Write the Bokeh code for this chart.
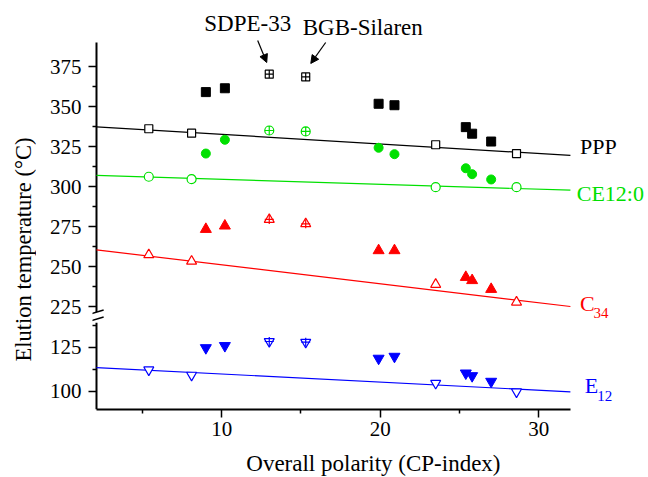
from bokeh.plotting import figure
from bokeh.layouts import column, row
from bokeh.models import Range1d, FixedTicker, Label, Arrow, NormalHead
from bokeh.embed import file_html
from bokeh.resources import INLINE

FONT = "Liberation Serif"
BLACK, GREEN, RED, BLUE = "#000000", "#00e000", "#ff0000", "#0000ff"

# ---- data ----
x_open = [5.4, 8.1, 23.5, 28.6]
x_filled = [9.0, 10.2, 19.9, 20.9, 25.4, 25.8, 27.0]
x_crossed = [13.0, 15.3]

ppp_open = [336.1, 333.3, 326.1, 320.6]
ppp_filled = [359.0, 361.4, 351.7, 350.8, 337.1, 333.0, 328.1]
ppp_crossed = [370.2, 368.5]

ce_open = [306.1, 304.6, 299.6, 299.6]
ce_filled = [320.6, 329.2, 324.2, 320.2, 311.4, 307.7, 304.4]
ce_crossed = [335.0, 334.4]

c34_open = [257.3, 253.3, 238.8, 227.7]
c34_filled = [273.3, 275.4, 260.0, 260.0, 243.3, 241.3, 235.8]
c34_crossed = [279.4, 276.7]

e12_open = [112.3, 109.3, 104.7, 99.8]
e12_filled = [124.8, 126.0, 118.8, 119.9, 110.4, 108.9, 105.7]
e12_crossed = [128.4, 128.0]

fit_x = [2.1, 32.0]
ppp_fit = [337.3, 319.4]
ce_fit = [306.9, 297.7]
c34_fit = [260.4, 225.0]
e12_fit = [113.6, 99.8]

upper_ticks = [225, 250, 275, 300, 325, 350, 375]
upper_minor = [237.5, 262.5, 287.5, 312.5, 337.5, 362.5]
lower_ticks = [100, 125]
lower_minor = [112.5, 137.5]
x_ticks = [10, 20, 30]
x_minor = [5, 15, 25]

X0, X1 = 2.1, 32.0                 # extent of the x axis
UP_LO, UP_HI = 221.5, 390.0        # extent of the upper y axis
LO_LO, LO_HI = 89.77, 139.2        # extent of the lower y axis
xr = Range1d(1.848, 36.927)


def style_axis(ax):
    ax.axis_line_width = 2
    ax.axis_line_color = BLACK
    ax.major_tick_line_width = 1.5
    ax.minor_tick_line_width = 1.5
    ax.major_tick_in = 0
    ax.major_tick_out = 8
    ax.minor_tick_in = 0
    ax.minor_tick_out = 4
    ax.major_label_text_font = FONT
    ax.major_label_text_font_size = "21px"
    ax.major_label_text_color = BLACK


def style_yaxis(ax):
    # axis sits 4px left of the drawn spine: ticks straddle so they end at the spine
    style_axis(ax)
    ax.axis_line_color = None
    ax.major_tick_out = 4
    ax.major_tick_in = 4
    ax.minor_tick_out = 0
    ax.minor_tick_in = 4
    ax.major_label_standoff = 7


def base(p):
    p.outline_line_color = None
    p.grid.visible = False
    p.background_fill_color = "white"
    p.border_fill_color = "white"


# ---- left strip holding the y-axis title ----
yfig = figure(width=36, height=477, x_range=Range1d(0, 36), y_range=Range1d(0, 477),
              output_backend="svg", toolbar_location=None, x_axis_location=None, y_axis_location=None,
              min_border=0)
base(yfig)
yfig.add_layout(Label(x=23, y=228, text="Elution temperature (°C)", angle=1.5707963,
                      text_font=FONT, text_font_size="22.5px", text_color=BLACK,
                      text_align="center", text_baseline="middle"))

# ---- upper panel ----
p1 = figure(width=612, height=322, x_range=xr, y_range=Range1d(215, 416.25),
            output_backend="svg", toolbar_location=None, x_axis_location=None,
            min_border_left=56, min_border_right=0, min_border_top=0, min_border_bottom=0)
base(p1)
ya = p1.yaxis[0]
style_yaxis(ya)
ya.bounds = (UP_LO, UP_HI)
ya.ticker = FixedTicker(ticks=upper_ticks, minor_ticks=upper_minor)
p1.segment(x0=[X0], y0=[UP_LO], x1=[X0], y1=[UP_HI], line_color=BLACK, line_width=2)

for fit, col in [(ppp_fit, BLACK), (ce_fit, GREEN), (c34_fit, RED)]:
    p1.line(fit_x, fit, line_color=col, line_width=1.2)

# PPP
p1.scatter(x_open, ppp_open, marker="square", size=8, fill_color="white", line_color=BLACK, line_width=1.2)
p1.scatter(x_filled, ppp_filled, marker="square", size=9, fill_color=BLACK, line_color=BLACK)
p1.scatter(x_crossed, ppp_crossed, marker="square_cross", size=8, fill_color="white", line_color=BLACK, line_width=1.2)
# CE12:0
p1.scatter(x_open, ce_open, marker="circle", size=9, fill_color="white", line_color=GREEN, line_width=1.2)
p1.scatter(x_filled, ce_filled, marker="circle", size=9, fill_color=GREEN, line_color=GREEN)
p1.scatter(x_crossed, ce_crossed, marker="circle_cross", size=9, fill_color="white", line_color=GREEN, line_width=1.2)
# C34
p1.scatter(x_open, c34_open, marker="triangle", size=10, fill_color="white", line_color=RED, line_width=1.2)
p1.scatter(x_filled, c34_filled, marker="triangle", size=11, fill_color=RED, line_color=RED)
p1.scatter(x_crossed, c34_crossed, marker="triangle", size=10, fill_color="white", line_color=RED, line_width=1.2)
p1.scatter(x_crossed, c34_crossed, marker="cross", size=9, line_color=RED, line_width=1.2)

# series labels
p1.add_layout(Label(x=32.6, y=325.0, text="PPP", text_font=FONT, text_font_size="22px",
                    text_color=BLACK, text_align="left", text_baseline="middle"))
p1.add_layout(Label(x=32.4, y=295.8, text="CE12:0", text_font=FONT, text_font_size="22px",
                    text_color=GREEN, text_align="left", text_baseline="middle"))
p1.add_layout(Label(x=32.6, y=226.7, text="C", text_font=FONT, text_font_size="22px",
                    text_color=RED, text_align="left", text_baseline="middle"))
p1.add_layout(Label(x=33.45, y=220.8, text="34", text_font=FONT, text_font_size="15px",
                    text_color=RED, text_align="left", text_baseline="middle"))

# annotations
p1.add_layout(Label(x=11.64, y=401.9, text="SDPE-33", text_font=FONT, text_font_size="23px",
                    text_color=BLACK, text_align="center", text_baseline="middle"))
p1.add_layout(Label(x=18.9, y=399.4, text="BGB-Silaren", text_font=FONT, text_font_size="23px",
                    text_color=BLACK, text_align="center", text_baseline="middle"))
p1.add_layout(Arrow(x_start=12.27, y_start=391.2, x_end=12.84, y_end=377.5, line_width=1.2,
                    end=NormalHead(size=8, fill_color=BLACK, line_color=BLACK)))
p1.add_layout(Arrow(x_start=16.56, y_start=390.0, x_end=15.62, y_end=376.9, line_width=1.2,
                    end=NormalHead(size=8, fill_color=BLACK, line_color=BLACK)))

# axis break marks
p1.add_layout(Arrow(x_start=1.6, y_start=220.0, x_end=2.55, y_end=222.8, line_width=1.5, end=None))
p1.add_layout(Arrow(x_start=1.6, y_start=215.6, x_end=2.55, y_end=218.4, line_width=1.5, end=None))

# ---- lower panel ----
p2 = figure(width=612, height=127, x_range=xr, y_range=Range1d(LO_LO, LO_HI),
            output_backend="svg", toolbar_location=None,
            min_border_left=56, min_border_right=0, min_border_top=0, min_border_bottom=40)
base(p2)
ya2 = p2.yaxis[0]
style_yaxis(ya2)
ya2.ticker = FixedTicker(ticks=lower_ticks, minor_ticks=lower_minor)
p2.segment(x0=[X0], y0=[LO_LO], x1=[X0], y1=[LO_HI], line_color=BLACK, line_width=2)
xa = p2.xaxis[0]
style_axis(xa)
xa.bounds = (X0, X1)
xa.ticker = FixedTicker(ticks=x_ticks, minor_ticks=x_minor)
xa.major_label_standoff = 4

p2.line(fit_x, e12_fit, line_color=BLUE, line_width=1.2)
p2.scatter(x_open, e12_open, marker="inverted_triangle", size=10, fill_color="white", line_color=BLUE, line_width=1.2)
p2.scatter(x_filled, e12_filled, marker="inverted_triangle", size=11, fill_color=BLUE, line_color=BLUE)
p2.scatter(x_crossed, e12_crossed, marker="inverted_triangle", size=10, fill_color="white", line_color=BLUE, line_width=1.2)
p2.scatter(x_crossed, e12_crossed, marker="cross", size=9, line_color=BLUE, line_width=1.2)

p2.add_layout(Label(x=32.9, y=103.4, text="E", text_font=FONT, text_font_size="22px",
                    text_color=BLUE, text_align="left", text_baseline="middle"))
p2.add_layout(Label(x=33.7, y=97.7, text="12", text_font=FONT, text_font_size="15px",
                    text_color=BLUE, text_align="left", text_baseline="middle"))

# ---- bottom strip holding the x-axis title (frame aligned with the panels above) ----
xfig = figure(width=612, height=28, x_range=xr, y_range=Range1d(0, 28),
              output_backend="svg", toolbar_location=None, x_axis_location=None, y_axis_location=None,
              min_border=0)
base(xfig)
xfig.add_layout(Label(x=19.57, y=14, text="Overall polarity (CP-index)", text_font=FONT,
                      text_font_size="23px", text_color=BLACK, text_align="center", text_baseline="middle"))

layout = row(yfig, column(p1, p2, xfig))
open("out.html", "w").write(file_html(layout, INLINE))
